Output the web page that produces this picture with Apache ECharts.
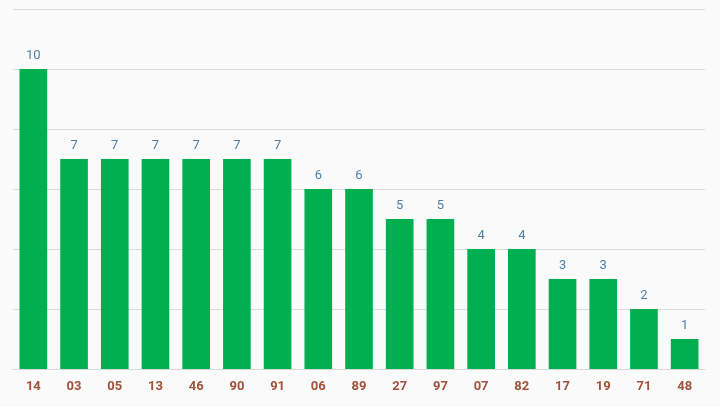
<!DOCTYPE html>
<html><head><meta charset="utf-8">
<script src="https://cdn.jsdelivr.net/npm/echarts@6/dist/echarts.min.js"></script>
<style>html,body{margin:0;padding:0;background:#fafafa}#c{width:720px;height:407px}</style>
</head><body><div id="c"></div>
<script>
var categories = ['14','03','05','13','46','90','91','06','89','27','97','07','82','17','19','71','48'];
var values = [10,7,7,7,7,7,7,6,6,5,5,4,4,3,3,2,1];
var chart = echarts.init(document.getElementById('c'), null, {renderer:'canvas'});
chart.setOption({
  backgroundColor:'#fafafa',
  animation:false,
  grid:{left:13,right:15,top:9,bottom:38,containLabel:false},
  xAxis:{type:'category',data:categories,
    axisLine:{show:true,lineStyle:{color:'#d9d9d9'}},
    axisTick:{show:false},
    axisLabel:{color:'#a0523a',fontWeight:'bold',fontSize:13,fontFamily:'Roboto',margin:11}},
  yAxis:{type:'value',min:0,max:12,interval:2,
    axisLabel:{show:false},axisLine:{show:false},axisTick:{show:false},
    splitLine:{lineStyle:{color:'#dcdcdc'}}},
  series:[{type:'bar',data:values,barCategoryGap:'32%',
    itemStyle:{color:'#00b050'},
    label:{show:true,position:'top',color:'#4f7fa6',fontSize:13,fontFamily:'Roboto',distance:7}}]
});
</script></body></html>
